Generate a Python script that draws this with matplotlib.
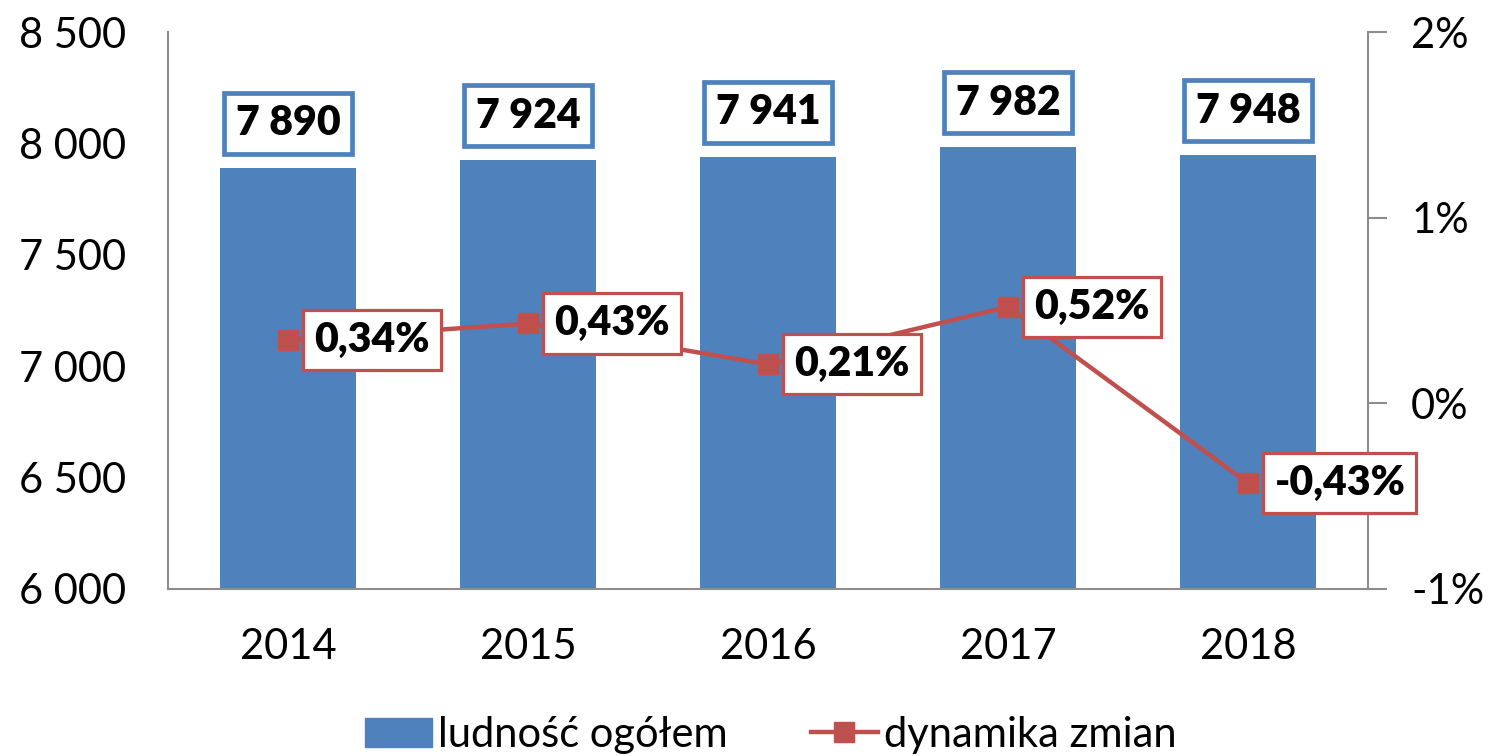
import matplotlib
matplotlib.use("Agg")
import matplotlib.pyplot as plt
from matplotlib.lines import Line2D
from matplotlib.patches import Patch

# ------------------------------------------------------------------
# Data
# ------------------------------------------------------------------
years = ["2014", "2015", "2016", "2017", "2018"]
population = [7890, 7924, 7941, 7982, 7948]
change_pct = [0.34, 0.43, 0.21, 0.52, -0.43]

left_ticks = [6000, 6500, 7000, 7500, 8000, 8500]
right_ticks = [-1, 0, 1, 2]

BLUE = "#4F81BD"
RED = "#C0504D"
GRAY = "#8C8C8C"

plt.rcParams["font.family"] = ["Lato", "DejaVu Sans"]

# ------------------------------------------------------------------
# Plot
# ------------------------------------------------------------------
fig = plt.figure(figsize=(14.88, 7.56), dpi=100)
ax = fig.add_axes([168 / 1488, 1 - 589 / 756, 1200 / 1488, 557 / 756])
ax2 = ax.twinx()

x = list(range(len(years)))
ax.bar(x, population, width=0.57, color=BLUE, zorder=2)
ax.set_xlim(-0.5, len(years) - 0.5)
ax.set_ylim(6000, 8500)
ax.set_yticks(left_ticks)
ax.set_yticklabels([f"{v:,}".replace(",", " ") for v in left_ticks], fontsize=30)
ax.set_xticks(x)
ax.set_xticklabels(years, fontsize=30)
ax.tick_params(axis="y", length=0, pad=30)
ax.tick_params(axis="x", length=0, pad=28)

for s in ["top", "right"]:
    ax.spines[s].set_visible(False)
for s in ["left", "bottom"]:
    ax.spines[s].set_color(GRAY)
    ax.spines[s].set_linewidth(1.5)

ax2.plot(x, change_pct, color=RED, lw=3.2, marker="s", markersize=14, zorder=3)
ax2.set_ylim(-1, 2)
ax2.set_yticks(right_ticks)
ax2.set_yticklabels([f"{v}%" for v in right_ticks], fontsize=30)
ax2.tick_params(axis="y", length=14, width=1.5, color=GRAY, pad=17, direction="out")
for s in ["top", "left", "bottom"]:
    ax2.spines[s].set_visible(False)
ax2.spines["right"].set_color(GRAY)
ax2.spines["right"].set_linewidth(1.5)

# bar labels
for xi, v in zip(x, population):
    ax.annotate(f"{v:,}".replace(",", " "), (xi, v), xytext=(0, 32),
                textcoords="offset points", ha="center", va="center",
                fontsize=29.5, fontweight="heavy", zorder=5,
                bbox=dict(boxstyle="square,pad=0.28", fc="white", ec=BLUE, lw=3.4))

# line labels
for xi, v in zip(x, change_pct):
    ax2.annotate(f"{v:.2f}%".replace(".", ","), (xi, v), xytext=(19, 0),
                 textcoords="offset points", ha="left", va="center",
                 fontsize=29.5, fontweight="heavy", zorder=5,
                 bbox=dict(boxstyle="square,pad=0.27", fc="white", ec=RED, lw=2.3))

handles = [Patch(color=BLUE, label="ludność ogółem"),
           Line2D([], [], color=RED, lw=3.2, marker="s", markersize=14,
                  label="dynamika zmian")]
fig.legend(handles=handles, loc="center", bbox_to_anchor=(0.518, 0.028), ncol=2,
           frameon=False, fontsize=30, handlelength=1.6, handletextpad=0.15,
           columnspacing=2.0)

plt.savefig("out.png", dpi=100)
